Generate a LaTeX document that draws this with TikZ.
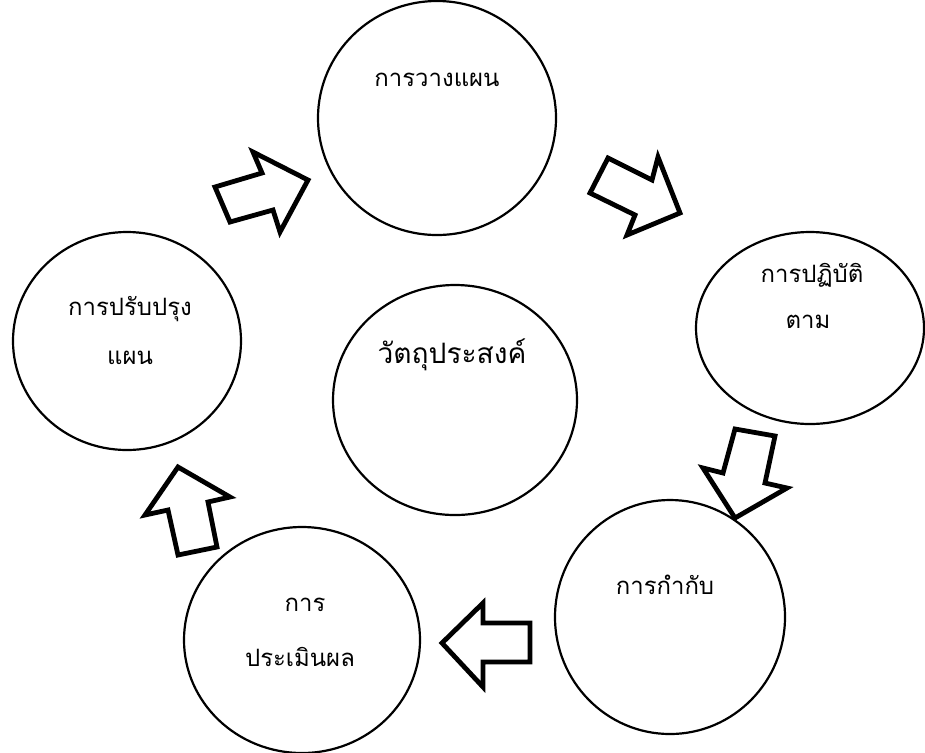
\documentclass[tikz,border=0pt]{standalone}
\usepackage{fontspec}
\newfontfamily\thaifont[Script=Thai]{Loma}
\tikzset{
  stage/.style={line width=0.055cm},
  flowarrow/.style={line width=0.12cm, line join=miter},
  stagetext/.style={inner sep=0pt, font=\thaifont\fontsize{17}{20}\selectfont}
}
\begin{document}
\begin{tikzpicture}[x=0.025cm,y=-0.025cm]
\useasboundingbox (0,0) rectangle (925,752);

% Drawing ellipse of the planning stage
\draw [stage] (437,118) ellipse (119 and 117);%
\node [stagetext] (plan) at (437,80) {การวางแผน};%

% Drawing ellipse of the doing stage
\draw [stage] (810,328) ellipse (114 and 96);%
\node [stagetext] (do1) at (812,275) {การปฏิบัติ};%
\node [stagetext] (do2) at (808,322) {ตาม};%

% Drawing ellipse of the control stage
\draw [stage] (670,617) ellipse (115 and 117);%
\node [stagetext] (ctrl) at (665,585) {การกำกับ};%

% Drawing ellipse of the evaluation stage
\draw [stage] (302,640) ellipse (118 and 113);%
\node [stagetext] (eval1) at (305,605) {การ};%
\node [stagetext] (eval2) at (300,657) {ประเมินผล};%

% Drawing ellipse of the improvement stage
\draw [stage] (127,341) ellipse (114 and 109);%
\node [stagetext] (impr1) at (130,309) {การปรับปรุง};%
\node [stagetext] (impr2) at (130,358) {แผน};%

% Drawing ellipse of the objective
\draw [stage] (455,400) ellipse (122 and 115);%
\node [stagetext, font=\thaifont\fontsize{20}{24}\selectfont] (goal) at (452,355) {วัตถุประสงค์};%

% Drawing arrow improvement -> planning
\draw [flowarrow] (215,187) -- (230,222) -- (273,210) -- (280,232) -- (308,180) -- (253,152) -- (262,173) -- cycle;%

% Drawing arrow planning -> doing
\draw [flowarrow] (608,158) -- (590,193) -- (635,215) -- (627,235) -- (680,213) -- (658,157) -- (652,180) -- cycle;%

% Drawing arrow doing -> control
\draw [flowarrow] (735,429) -- (775,436) -- (765,483) -- (787,488) -- (735,518) -- (703,468) -- (723,473) -- cycle;%

% Drawing arrow control -> evaluation
\draw [flowarrow] (530,623) -- (530,662) -- (483,662) -- (483,687) -- (442,643) -- (483,603) -- (483,623) -- cycle;%

% Drawing arrow evaluation -> improvement
\draw [flowarrow] (217,547) -- (178,555) -- (168,510) -- (145,515) -- (178,467) -- (230,497) -- (208,502) -- cycle;%
\end{tikzpicture}
\end{document}
